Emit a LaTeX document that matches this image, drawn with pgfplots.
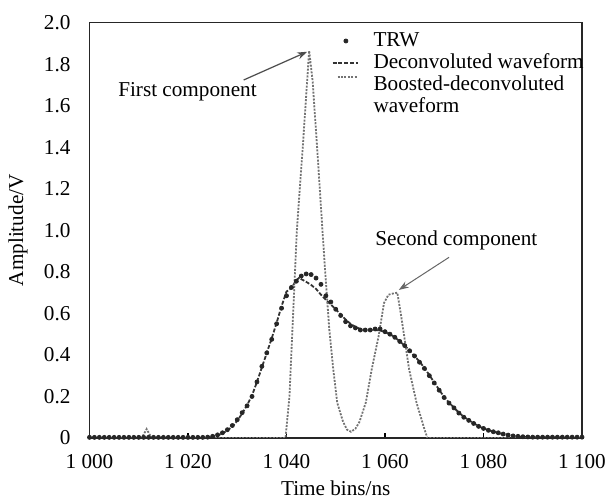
\documentclass[border=0pt]{standalone}
\usepackage{fontspec}
\setmainfont{Liberation Serif}
\usepackage{pgfplots}
\usepackage{pgfplotstable}
\pgfplotsset{compat=1.18}
\usetikzlibrary{arrows.meta}
\newcommand\chartfont{\fontsize{10.6}{12.7}\selectfont}
\pgfplotsset{
  trwleg/.style={legend image code/.code={\draw[##1] plot coordinates {(6.65pt,0pt)};}},
  decleg/.style={legend image code/.code={\draw[##1] (0pt,0pt) -- (12.5pt,0pt);}},
  booleg/.style={legend image code/.code={\draw[##1] (2.5pt,4pt) -- (12.5pt,4pt);}},
}

\pgfplotstableread{
x y
1000 0.003
1001 0.003
1002 0.003
1003 0.003
1004 0.003
1005 0.003
1006 0.003
1007 0.003
1008 0.003
1009 0.003
1010 0.003
1011 0.003
1012 0.003
1013 0.003
1014 0.003
1015 0.003
1016 0.003
1017 0.003
1018 0.003
1019 0.003
1020 0.003
1021 0.003
1022 0.003
1023 0.003
1024 0.004
1025 0.008
1026 0.015
1027 0.025
1028 0.04
1029 0.06
1030 0.088
1031 0.122
1032 0.155
1033 0.2
1034 0.27
1035 0.345
1036 0.41
1037 0.475
1038 0.55
1039 0.625
1040 0.685
1041 0.725
1042 0.755
1043 0.78
1044 0.79
1045 0.787
1046 0.77
1047 0.74
1048 0.685
1049 0.655
1050 0.62
1051 0.59
1052 0.56
1053 0.54
1054 0.53
1055 0.52
1056 0.52
1057 0.52
1058 0.525
1059 0.525
1060 0.512
1061 0.5
1062 0.485
1063 0.465
1064 0.445
1065 0.42
1066 0.395
1067 0.365
1068 0.335
1069 0.3
1070 0.265
1071 0.23
1072 0.195
1073 0.168
1074 0.145
1075 0.12
1076 0.1
1077 0.085
1078 0.07
1079 0.056
1080 0.046
1081 0.037
1082 0.03
1083 0.025
1084 0.019
1085 0.014
1086 0.01
1087 0.008
1088 0.006
1089 0.005
1090 0.004
1091 0.004
1092 0.004
1093 0.004
1094 0.004
1095 0.004
1096 0.004
1097 0.004
1098 0.004
1099 0.004
1100 0.004
}\trw

\pgfplotstableread{
x y
1000 0
1024 0
1025 0.006
1026 0.012
1027 0.022
1028 0.036
1029 0.055
1030 0.083
1031 0.118
1032 0.158
1033 0.205
1034 0.27
1035 0.34
1036 0.41
1037 0.48
1038 0.555
1039 0.635
1040 0.705
1041 0.722
1042 0.76
1042.6 0.772
1043 0.765
1044 0.752
1045 0.737
1046 0.718
1047 0.69
1048 0.665
1049 0.643
1050 0.62
1051 0.595
1052 0.57
1053 0.55
1054 0.535
1055 0.525
1056 0.52
1057 0.52
1058 0.52
1059 0.518
1060 0.51
1061 0.5
1062 0.485
1063 0.465
1064 0.445
1065 0.42
1066 0.395
1067 0.368
1068 0.338
1069 0.303
1070 0.268
1071 0.232
1072 0.198
1073 0.17
1074 0.146
1075 0.122
1076 0.102
1077 0.086
1078 0.071
1079 0.057
1080 0.046
1082 0.03
1084 0.018
1086 0.01
1088 0.005
1090 0.002
1100 0
}\deconv

\pgfplotstableread{
x y
1000 0
1010.6 0
1011.6 0.043
1012.6 0
1039.8 0
1040.6 0.2
1041.2 0.52
1042.1 1.0
1043.3 1.4
1044.0 1.65
1044.6 1.865
1045.3 1.72
1046.3 1.37
1047.3 1.0
1048.0 0.75
1048.7 0.52
1049.5 0.33
1050.3 0.17
1051.5 0.077
1052.3 0.04
1053.1 0.03
1054.0 0.045
1054.8 0.077
1056.1 0.17
1057.3 0.33
1058.7 0.49
1059.8 0.65
1060.7 0.69
1061.5 0.695
1062.5 0.70
1063.2 0.6
1063.9 0.49
1064.9 0.33
1066.4 0.17
1068.0 0.043
1068.6 0
1100 0
}\boosted

\begin{document}
\begin{tikzpicture}
\begin{axis}[
  scale only axis,
  width=246.25pt, height=207.65pt,
  xmin=1000, xmax=1100, ymin=0, ymax=2,
  xtick={1000,1020,1040,1060,1080,1100},
  xticklabels={1 000,1 020,1 040,1 060,1 080,1 100},
  ytick={0,0.2,0.4,0.6,0.8,1.0,1.2,1.4,1.6,1.8,2.0},
  yticklabels={0,0.2,0.4,0.6,0.8,1.0,1.2,1.4,1.6,1.8,2.0},
  tick label style={font=\chartfont},
  xticklabel style={yshift=-4.6pt},
  yticklabel style={xshift=-6pt},
  xtick pos=lower, ytick pos=left,
  tick align=inside,
  major tick length=2.5pt,
  ytick style={draw=none},
  xtick style={black, line width=0.6pt},
  axis line style={black!85, line width=0.7pt},
  xlabel={Time bins/ns},
  ylabel={Amplitude/V},
  every axis x label/.style={at={(rel axis cs:0.5,0)}, anchor=center, yshift=-25pt, font=\chartfont},
  every axis y label/.style={at={(rel axis cs:0,0.5)}, xshift=-35.75pt, anchor=center, rotate=90, font=\chartfont},
  legend cell align=left,
  legend style={draw=none, fill=none, at={(rel axis cs:0.4918,1)}, anchor=north west,
    yshift=-4.25pt, inner sep=0pt, outer sep=0pt, font=\chartfont,
    nodes={inner sep=0pt, text height=7.5pt, text depth=2.3pt},
    column sep=7.5pt, row sep=1.3pt},
]
\addplot[only marks, mark=*, mark size=1pt, black!85, trwleg] table[x=x,y=y] {\trw};
\addlegendentry{TRW}
\addplot[black!80, line width=0.9pt, dash pattern=on 2pt off 0.9pt, decleg] table[x=x,y=y] {\deconv};
\addlegendentry{Deconvoluted waveform}
\addplot[black!55, line width=0.9pt, dash pattern=on 1pt off 0.7pt, booleg] table[x=x,y=y] {\boosted};
\addlegendentry{Boosted-deconvoluted}
\addlegendimage{empty legend}
\addlegendentry{waveform}

\node[font=\chartfont, anchor=center] at (axis cs:1019.9,1.667) {First component};
\draw[-{Stealth[length=5pt,width=3.5pt]}, black!70, line width=0.6pt] (axis cs:1031.3,1.724) -- (axis cs:1044.2,1.860);
\node[font=\chartfont, anchor=center] at (axis cs:1074.5,0.953) {Second component};
\draw[-{Stealth[length=5pt,width=3.5pt]}, black!60, line width=0.5pt] (axis cs:1073.0,0.870) -- (axis cs:1062.8,0.713);

\coordinate (O) at (rel axis cs:0,0);
\coordinate (T) at (rel axis cs:1,1);
\end{axis}
\pgfresetboundingbox
\path ([xshift=-44.75pt,yshift=-31.5pt]O) rectangle ([xshift=12pt,yshift=11.35pt]T);
\end{tikzpicture}
\end{document}
